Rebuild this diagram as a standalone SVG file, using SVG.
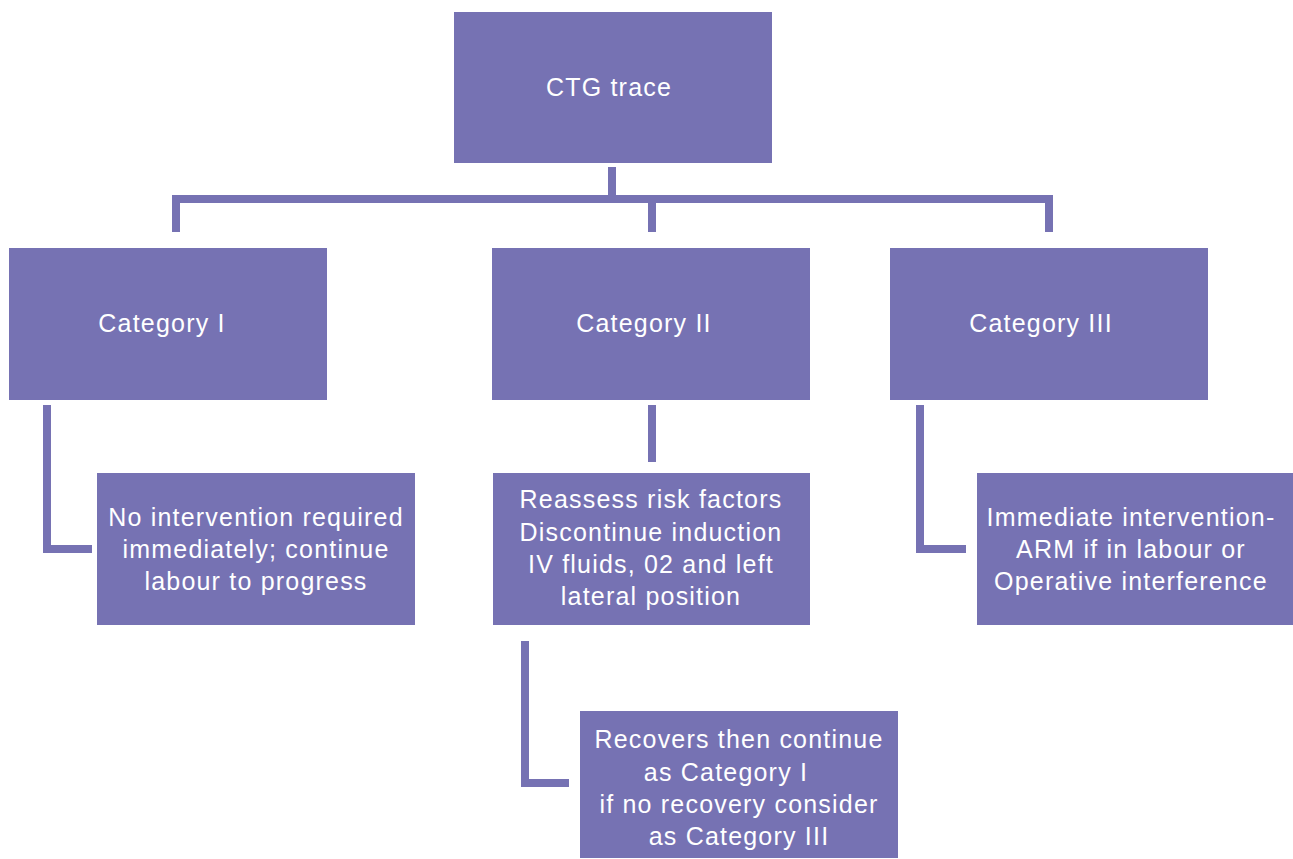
<svg xmlns="http://www.w3.org/2000/svg" width="1293" height="859" viewBox="0 0 1293 859">
<style>
.box{fill:#7672B3}
.ln{fill:none;stroke:#7672B3;stroke-width:8;stroke-linecap:butt;stroke-linejoin:miter}
text{font-family:"Liberation Sans","DejaVu Sans",sans-serif;font-size:25px;letter-spacing:1.2px;fill:#ffffff;text-anchor:middle}
</style>
<rect width="1293" height="859" fill="#ffffff"/>
<g id="connectors">
<path class="ln" d="M612 167 V199 M176 232 V199 H1049 V232 M652 199 V232"/>
<path class="ln" d="M47 405 V549 H92"/>
<path class="ln" d="M652 405 V462"/>
<path class="ln" d="M920 405 V549 H966"/>
<path class="ln" d="M525 641 V783 H569"/>
</g>
<g id="ctg"><rect class="box" x="454" y="12" width="318" height="151"/><text x="609" y="96">CTG trace</text></g>
<g id="cat1"><rect class="box" x="9" y="248" width="318" height="152"/><text x="162" y="332">Category I</text></g>
<g id="cat2"><rect class="box" x="492" y="248" width="318" height="152"/><text x="644" y="332">Category II</text></g>
<g id="cat3"><rect class="box" x="890" y="248" width="318" height="152"/><text x="1041" y="332">Category III</text></g>
<g id="noint"><rect class="box" x="97" y="473" width="318" height="152"/>
<text x="256" y="526">No intervention required</text><text x="256" y="558">immediately; continue</text><text x="256" y="590">labour to progress</text></g>
<g id="reassess"><rect class="box" x="493" y="473" width="317" height="152"/>
<text x="651" y="508">Reassess risk factors</text><text x="651" y="541">Discontinue induction</text><text x="651" y="573">IV fluids, 02 and left</text><text x="651" y="605">lateral position</text></g>
<g id="immediate"><rect class="box" x="977" y="473" width="316" height="152"/>
<text x="1131" y="526">Immediate intervention-</text><text x="1131" y="558">ARM if in labour or</text><text x="1131" y="590">Operative interference</text></g>
<g id="recovers"><rect class="box" x="580" y="711" width="318" height="147"/>
<text x="739" y="748">Recovers then continue</text><text x="726" y="781">as Category I</text><text x="739" y="813">if no recovery consider</text><text x="739" y="845">as Category III</text></g>
</svg>
